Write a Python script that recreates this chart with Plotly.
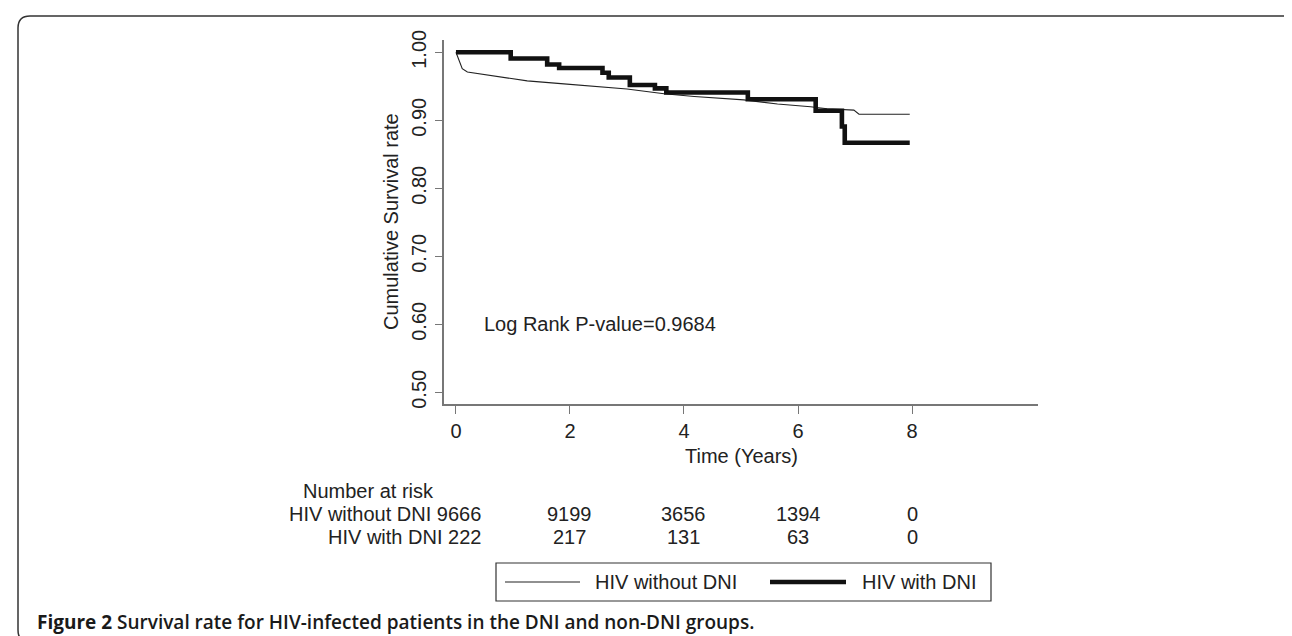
import plotly.graph_objects as go

# ---- data ----
dni_time = [0.0, 0.96, 0.96, 1.60, 1.60, 1.81, 1.81, 2.57, 2.57, 2.68, 2.68, 3.05, 3.05, 3.49, 3.49,
            3.69, 3.69, 5.12, 5.12, 6.31, 6.31, 6.77, 6.77, 6.82, 6.82, 7.96]
dni_surv = [1.000, 1.000, 0.991, 0.991, 0.982, 0.982, 0.977, 0.977, 0.970, 0.970, 0.963, 0.963, 0.952,
            0.952, 0.947, 0.947, 0.941, 0.941, 0.931, 0.931, 0.914, 0.914, 0.891, 0.891, 0.867, 0.867]

nodni_time = [0.0, 0.035, 0.07, 0.11, 0.20, 0.37, 0.67, 1.25, 1.84, 2.25, 3.00, 3.65, 4.18, 5.05,
              5.64, 6.22, 6.51, 6.98, 7.07, 7.96]
nodni_surv = [1.000, 0.992, 0.982, 0.976, 0.971, 0.969, 0.965, 0.958, 0.954, 0.9515, 0.946, 0.939,
              0.935, 0.930, 0.924, 0.920, 0.917, 0.915, 0.909, 0.909]

risk_times = [2, 4, 6, 8]
group_names = ["HIV without DNI", "HIV with DNI"]
risk_nodni = [9666, 9199, 3656, 1394, 0]
risk_dni = [222, 217, 131, 63, 0]

x_ticks = [0, 2, 4, 6, 8]
y_ticks = [0.50, 0.60, 0.70, 0.80, 0.90, 1.00]

pvalue_text = "Log Rank P-value=0.9684"
caption_bold = "Figure 2"
caption_rest = "Survival rate for HIV-infected patients in the DNI and non-DNI groups."

# ---- layout geometry (pixels) ----
W, H = 1292, 636
L, R, T, B = 436, 1030, 32, 396


def px(xp):
    return (xp - L) / (R - L)


def py(yp):
    return (B - yp) / (B - T)


FONT = "Liberation Sans, Arial, sans-serif"
TXT = "#222222"

fig = go.Figure()
fig.add_trace(go.Scatter(x=nodni_time, y=nodni_surv, mode="lines", name=group_names[0],
                         line=dict(color="#222222", width=1.1), showlegend=False))
fig.add_trace(go.Scatter(x=dni_time, y=dni_surv, mode="lines", name=group_names[1],
                         line=dict(color="#111111", width=4.6), showlegend=False))

annotations = []
# y title
annotations.append(dict(text="Cumulative Survival rate", xref="paper", yref="paper",
                        x=px(383), y=py(214), textangle=-90, showarrow=False,
                        xanchor="center", yanchor="middle",
                        font=dict(size=20, color=TXT, family=FONT)))
# x title
annotations.append(dict(text="Time (Years)", xref="paper", yref="paper",
                        x=0.5, y=py(448), showarrow=False, xanchor="center", yanchor="middle",
                        font=dict(size=20, color=TXT, family=FONT)))
# p-value
annotations.append(dict(text=pvalue_text, xref="x", yref="y", x=0.46, y=0.60,
                        xanchor="left", yanchor="middle", showarrow=False,
                        font=dict(size=20, color=TXT, family=FONT)))
# number at risk table
annotations.append(dict(text="Number at risk", xref="paper", yref="paper", x=px(293), y=py(483),
                        xanchor="left", yanchor="middle", showarrow=False,
                        font=dict(size=20, color=TXT, family=FONT)))
for name, risks, yrow in [(group_names[0], risk_nodni, 506), (group_names[1], risk_dni, 529)]:
    annotations.append(dict(text=f"{name} {risks[0]}", xref="paper", yref="paper", x=px(475),
                            y=py(yrow), xanchor="right", yanchor="middle", showarrow=False,
                            font=dict(size=20, color=TXT, family=FONT)))
    for t, r in zip(risk_times, risks[1:]):
        annotations.append(dict(text=str(r), xref="x", yref="paper", x=t, y=py(yrow),
                                xanchor="center", yanchor="middle", showarrow=False,
                                font=dict(size=20, color=TXT, family=FONT)))
# legend texts
annotations.append(dict(text=group_names[0], xref="paper", yref="paper", x=px(585), y=py(574),
                        xanchor="left", yanchor="middle", showarrow=False,
                        font=dict(size=20, color=TXT, family=FONT)))
annotations.append(dict(text=group_names[1], xref="paper", yref="paper", x=px(852), y=py(574),
                        xanchor="left", yanchor="middle", showarrow=False,
                        font=dict(size=20, color=TXT, family=FONT)))
# caption
annotations.append(dict(text=f"<b>{caption_bold}</b> {caption_rest}", xref="paper", yref="paper",
                        x=px(27), y=py(614), xanchor="left", yanchor="middle", showarrow=False,
                        font=dict(size=19, color="#1a1a1a", family="Open Sans, sans-serif", weight=600)))

shapes = []
# legend box
shapes.append(dict(type="rect", xref="paper", yref="paper", x0=px(488), x1=px(983),
                   y0=py(593), y1=py(555), line=dict(color="#333333", width=1.2)))
shapes.append(dict(type="line", xref="paper", yref="paper", x0=px(497), x1=px(572),
                   y0=py(574), y1=py(574), line=dict(color="#222222", width=1.1)))
shapes.append(dict(type="line", xref="paper", yref="paper", x0=px(762), x1=px(838),
                   y0=py(574), y1=py(574), line=dict(color="#111111", width=4.6)))
# outer rounded frame
x0, x1, y0, y1 = px(10), px(1288), py(634), py(8)
rx, ry = 12 / (R - L), 12 / (B - T)
path = (f"M {x0},{y0 + ry} L {x0},{y1 - ry} Q {x0},{y1} {x0 + rx},{y1} "
        f"L {x1 - rx},{y1} Q {x1},{y1} {x1},{y1 - ry} "
        f"L {x1},{y0 + ry} Q {x1},{y0} {x1 - rx},{y0} "
        f"L {x0 + rx},{y0} Q {x0},{y0} {x0},{y0 + ry} Z")
shapes.append(dict(type="path", xref="paper", yref="paper", path=path,
                   line=dict(color="#333333", width=1.5)))

fig.update_layout(
    width=W, height=H,
    margin=dict(l=L, r=W - R, t=T, b=H - B, pad=0),
    paper_bgcolor="white", plot_bgcolor="white",
    font=dict(family=FONT, size=20, color=TXT),
    showlegend=False,
    annotations=annotations,
    shapes=shapes,
    xaxis=dict(range=[-0.21, 10.21], tickvals=x_ticks, ticktext=[str(v) for v in x_ticks],
               showgrid=False, zeroline=False, showline=True, linecolor="#777777", linewidth=1.5,
               ticks="outside", ticklen=8, tickwidth=1.2, tickcolor="#777777",
               tickfont=dict(size=20, color=TXT, family=FONT), ticklabelstandoff=0),
    yaxis=dict(range=[0.4828, 1.0181], tickvals=y_ticks, ticktext=[f"{v:.2f}" for v in y_ticks],
               showgrid=False, zeroline=False, showline=True, linecolor="#777777", linewidth=1.5,
               ticks="outside", ticklen=7, tickwidth=1.2, tickcolor="#777777", tickangle=-90,
               tickfont=dict(size=20, color=TXT, family=FONT), ticklabelstandoff=1),
)

fig.write_html("out.html")
